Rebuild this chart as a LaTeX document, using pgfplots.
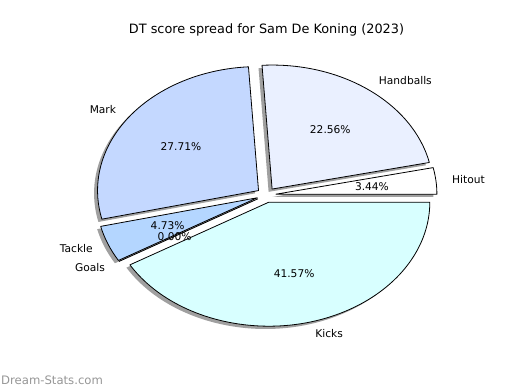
\documentclass[border=0pt]{standalone}
\usepackage{pgfplots}
\pgfplotsset{compat=1.18}
\usepackage{fontspec}
\setmainfont{DejaVu Sans}
\definecolor{cKicks}{RGB}{216,255,255}
\definecolor{cHand}{RGB}{234,240,255}
\definecolor{cMark}{RGB}{196,216,255}
\definecolor{cTackle}{RGB}{180,214,255}
\definecolor{cHitout}{RGB}{255,255,255}
\definecolor{cGoals}{RGB}{200,230,255}
\definecolor{shadowgray}{RGB}{160,160,160}
\definecolor{wmgray}{RGB}{150,150,150}
% values (percent of DT score)
\def\vHitout{3.44}
\def\vHandballs{22.56}
\def\vMark{27.71}
\def\vTackle{4.73}
\def\vGoals{0.00}
\def\vKicks{41.57}
\pgfmathsetmacro\tot{\vHitout+\vHandballs+\vMark+\vTackle+\vGoals+\vKicks}
\pgfmathsetmacro\aA{0}
\pgfmathsetmacro\aB{\aA+360*\vHitout/\tot}
\pgfmathsetmacro\aC{\aB+360*\vHandballs/\tot}
\pgfmathsetmacro\aD{\aC+360*\vMark/\tot}
\pgfmathsetmacro\aE{\aD+360*\vTackle/\tot}
\pgfmathsetmacro\aF{\aE+360*\vGoals/\tot}
\pgfmathsetmacro\aG{\aF+360*\vKicks/\tot}
\newcommand\slice[3]{%
  \filldraw[fill=#3,draw=black,line width=0.8bp,line join=round]
   (axis cs:{0.06*cos((#1+#2)/2)},{0.06*sin((#1+#2)/2)})
   -- (axis cs:{0.06*cos((#1+#2)/2)+cos(#1)},{0.06*sin((#1+#2)/2)+sin(#1)})
   arc[start angle=#1,end angle=#2,x radius=161bp,y radius=124bp] -- cycle;}
\newcommand\shadowslice[2]{%
  \fill[shadowgray,shift={(-3.5bp,-2.8bp)}]
   (axis cs:{0.06*cos((#1+#2)/2)},{0.06*sin((#1+#2)/2)})
   -- (axis cs:{0.06*cos((#1+#2)/2)+cos(#1)},{0.06*sin((#1+#2)/2)+sin(#1)})
   arc[start angle=#1,end angle=#2,x radius=161bp,y radius=124bp] -- cycle;}
\newcommand\lbl[3]{% mid angle, anchor, text
  \node[anchor=#2,inner sep=0pt,font=\fontsize{10.7}{12}\selectfont]
   at (axis cs:{1.16*cos(#1)},{1.16*sin(#1)}) {#3};}
\newcommand\pct[2]{%
  \node[anchor=center,inner sep=0pt,font=\fontsize{10.7}{12}\selectfont]
   at (axis cs:{0.66*cos(#1)},{0.66*sin(#1)}) {#2};}
\begin{document}
\begin{tikzpicture}
\begin{axis}[scale only axis, width=520bp, height=390bp,
  xmin=-1.6540, xmax=1.5758, ymin=-1.5726, ymax=1.5726,
  axis line style={draw=none}, xtick=\empty, ytick=\empty, clip=false]
% shadows
\shadowslice{\aA}{\aB}
\shadowslice{\aB}{\aC}
\shadowslice{\aC}{\aD}
\shadowslice{\aD}{\aE}
\shadowslice{\aF}{\aG}
% wedges
\slice{\aA}{\aB}{cHitout}
\slice{\aB}{\aC}{cHand}
\slice{\aC}{\aD}{cMark}
\slice{\aD}{\aE}{cTackle}
\draw[black,line width=0.8bp] (axis cs:{0.06*cos(\aE)},{0.06*sin(\aE)}) -- (axis cs:{1.06*cos(\aE)},{1.06*sin(\aE)});
\slice{\aF}{\aG}{cKicks}
% labels
\lbl{(\aA+\aB)/2}{west}{Hitout}
\lbl{(\aB+\aC)/2}{west}{Handballs}
\lbl{(\aC+\aD)/2}{east}{Mark}
\lbl{(\aD+\aE)/2}{east}{Tackle}
\lbl{(\aE+\aF)/2}{east}{Goals}
\lbl{(\aF+\aG)/2}{west}{Kicks}
\pct{(\aA+\aB)/2}{3.44\%}
\pct{(\aB+\aC)/2}{22.56\%}
\pct{(\aC+\aD)/2}{27.71\%}
\pct{(\aD+\aE)/2}{4.73\%}
\pct{(\aE+\aF)/2}{0.00\%}
\pct{(\aF+\aG)/2}{41.57\%}
\node[anchor=center,inner sep=0pt,font=\fontsize{12.9}{15}\selectfont] at (axis cs:0.0012,1.3306) {DT score spread for Sam De Koning (2023)};
\node[anchor=west,inner sep=0pt,text=wmgray,font=\fontsize{11.7}{14}\selectfont] at (axis cs:-1.648,-1.492) {Dream-Stats.com};
\end{axis}
\end{tikzpicture}
\end{document}
